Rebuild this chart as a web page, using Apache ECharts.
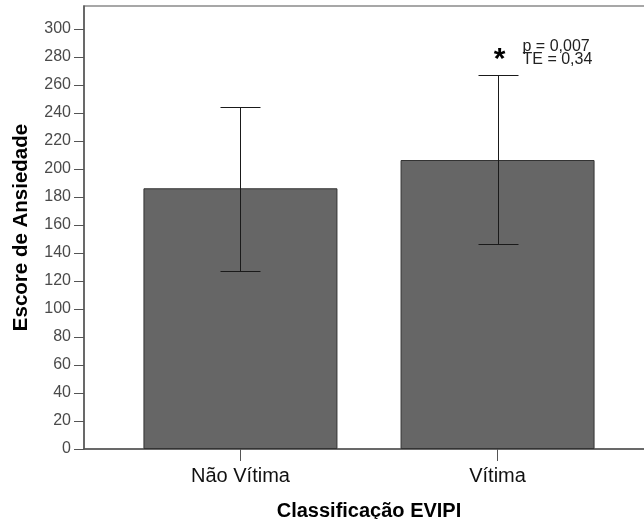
<!DOCTYPE html>
<html><head><meta charset="utf-8">
<script src="https://cdn.jsdelivr.net/npm/echarts@6/dist/echarts.min.js"></script>
<style>html,body{margin:0;padding:0;background:#fff}#c{width:644px;height:519px}</style>
</head><body><div id="c"></div>
<script>
const categories = ['Não Vítima', 'Vítima'];
const categoryPositions = [1, 2];
const means = [186.2, 206.4];
const errLower = [127.1, 146.2];
const errUpper = [244.3, 267.1];
const yTicks = [0, 20, 40, 60, 80, 100, 120, 140, 160, 180, 200, 220, 240, 260, 280, 300];
const annotationIndex = 1;
const annotationStar = '*';
const annotationLines = ['p = 0,007', 'TE = 0,34'];
const xAxisTitle = 'Classificação EVIPI';
const yAxisTitle = 'Escore de Ansiedade';

const FONT = '"Liberation Sans", Arial, sans-serif';
const chart = echarts.init(document.getElementById('c'), null, {renderer: 'canvas'});

const barData = categoryPositions.map((p, i) => [p, means[i]]);
const errData = categoryPositions.map((p, i) => [p, errLower[i], errUpper[i]]);

const option = {
  animation: false,
  backgroundColor: '#fff',
  grid: {
    left: 84, right: -10, top: 6, bottom: 70,
    containLabel: false, outerBoundsMode: 'none',
    show: true, borderColor: '#8a8a8a', borderWidth: 1.5, backgroundColor: 'transparent'
  },
  xAxis: {
    type: 'value', min: 0.3915, max: 2.6085,
    axisLine: {show: true, onZero: false, lineStyle: {color: '#555', width: 1.5}},
    axisTick: {show: true, length: 12, customValues: categoryPositions, lineStyle: {color: '#555', width: 1}},
    axisLabel: {
      customValues: categoryPositions,
      formatter: v => { const k = categoryPositions.indexOf(v); return k >= 0 ? categories[k] : ''; },
      margin: 17, fontSize: 20, color: '#111', fontFamily: FONT
    },
    splitLine: {show: false},
    name: xAxisTitle, nameLocation: 'middle', nameGap: 52,
    nameTextStyle: {fontSize: 20, fontWeight: 'bold', color: '#000', fontFamily: FONT}
  },
  yAxis: {
    type: 'value', min: 0, max: 316.4,
    axisLine: {show: true, onZero: false, lineStyle: {color: '#555', width: 1.5}},
    axisTick: {show: true, length: 10, inside: false, customValues: yTicks, lineStyle: {color: '#555', width: 1}},
    axisLabel: {customValues: yTicks, margin: 13, fontSize: 16, color: '#4a4a4a', fontFamily: FONT},
    splitLine: {show: false},
    name: yAxisTitle, nameLocation: 'middle', nameGap: 52,
    nameTextStyle: {fontSize: 20.5, fontWeight: 'bold', color: '#000', fontFamily: FONT}
  },
  series: [
    {
      type: 'bar', data: barData, barWidth: 194,
      itemStyle: {color: '#666666', borderColor: '#333', borderWidth: 1}
    },
    {
      type: 'custom', data: errData, z: 5,
      renderItem: function (params, api) {
        const x = api.value(0), lo = api.value(1), hi = api.value(2);
        const pLo = api.coord([x, lo]), pHi = api.coord([x, hi]);
        const cx = Math.round(pLo[0]) + 0.5;
        const yl = Math.round(pLo[1]) + 0.5, yh = Math.round(pHi[1]) + 0.5;
        const half = 20;
        const st = {stroke: '#1a1a1a', lineWidth: 1};
        const children = [
          {type: 'line', shape: {x1: cx, y1: yl, x2: cx, y2: yh}, style: st},
          {type: 'line', shape: {x1: cx - half, y1: yl, x2: cx + half, y2: yl}, style: st},
          {type: 'line', shape: {x1: cx - half, y1: yh, x2: cx + half, y2: yh}, style: st}
        ];
        if (params.dataIndex === annotationIndex) {
          children.push({type: 'text', x: cx + 1, y: yh - 16, style: {
            text: annotationStar, font: 'bold 30px ' + FONT, align: 'center', verticalAlign: 'middle', fill: '#000'}});
          children.push({type: 'text', x: cx + 24, y: yh - 22, style: {
            text: annotationLines.join('\n'), font: '16px ' + FONT, lineHeight: 13,
            align: 'left', verticalAlign: 'middle', fill: '#222'}});
        }
        return {type: 'group', children: children};
      }
    }
  ]
};
chart.setOption(option);
</script>
</body></html>
